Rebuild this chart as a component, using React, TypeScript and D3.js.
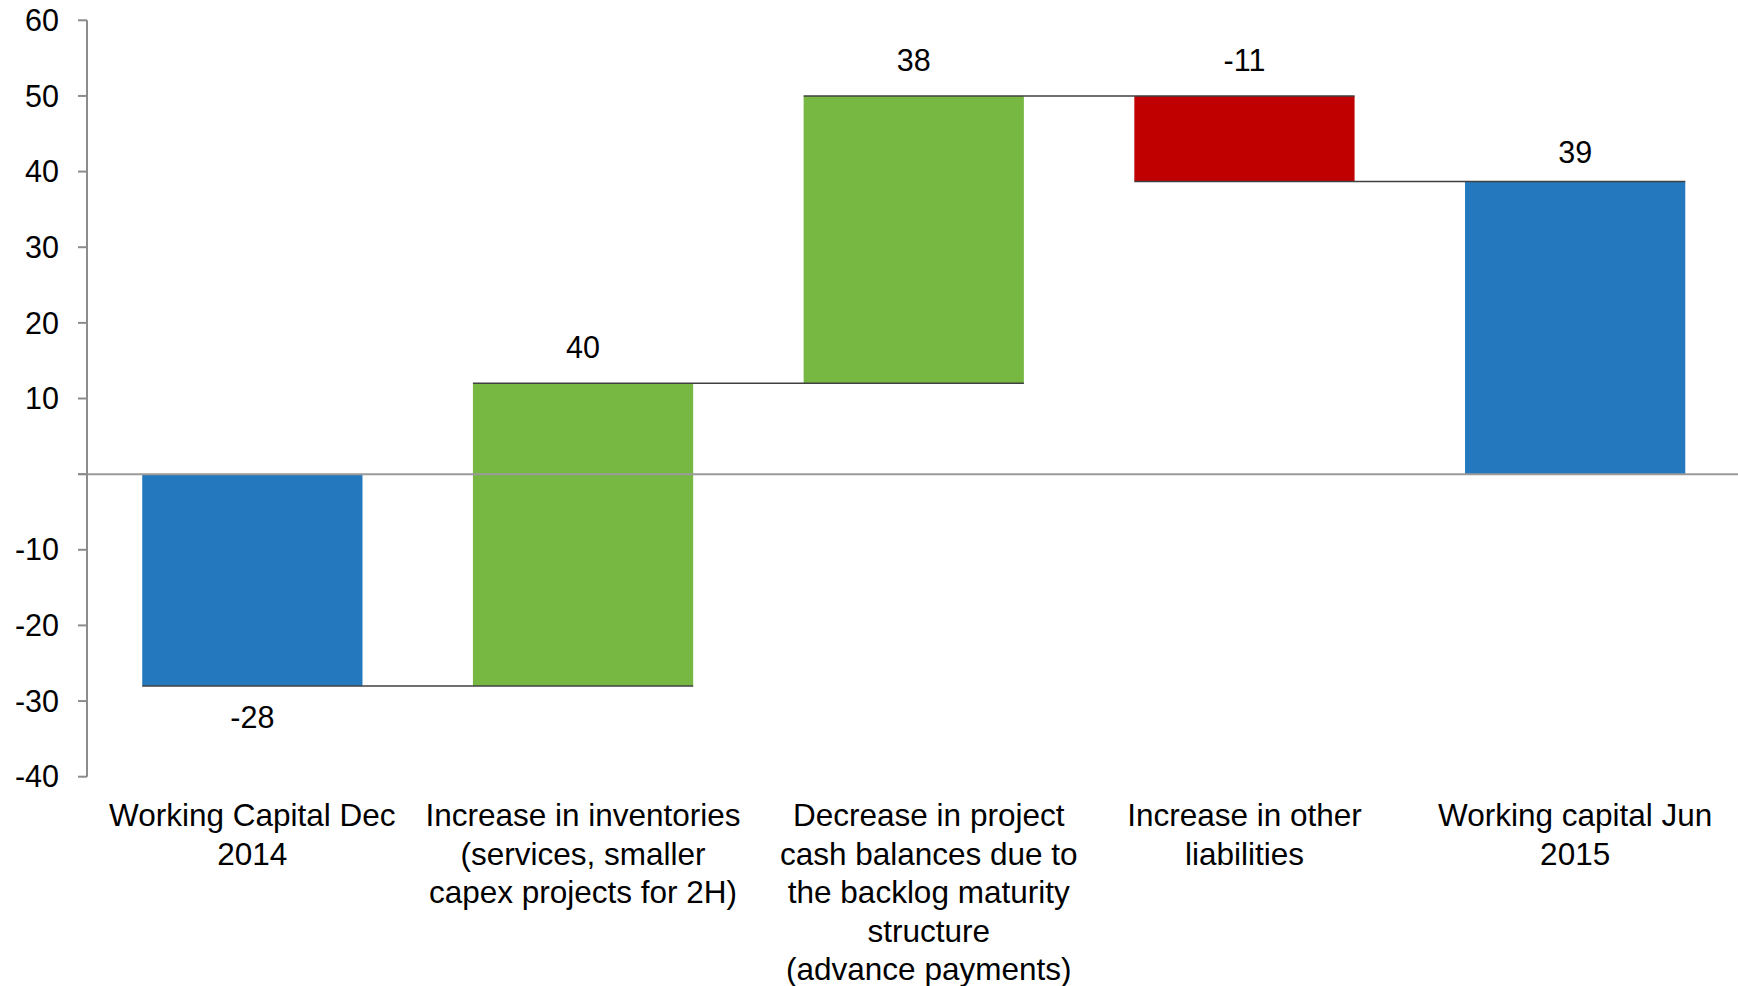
import React from "react";
import * as d3 from "d3";

const categories = [
  "Working Capital Dec 2014",
  "Increase in inventories (services, smaller capex projects for 2H)",
  "Decrease in project cash balances due to the backlog maturity structure (advance payments)",
  "Increase in other liabilities",
  "Working capital Jun 2015",
];
const categoryLines = [
  ["Working Capital Dec", "2014"],
  ["Increase in inventories", "(services, smaller", "capex projects for 2H)"],
  ["Decrease in project", "cash balances due to", "the backlog maturity", "structure", "(advance payments)"],
  ["Increase in other", "liabilities"],
  ["Working capital Jun", "2015"],
];
const kinds = ["total", "delta", "delta", "delta", "total"];
const values = [-28, 40, 38, -11.3, 38.7];
const valueLabels = ["-28", "40", "38", "-11", "39"];
const yTicks = [-40, -30, -20, -10, 0, 10, 20, 30, 40, 50, 60];
const yTickLabels = ["-40", "-30", "-20", "-10", "", "10", "20", "30", "40", "50", "60"];

const W = 1738;
const H = 986;
const FONT = "'Liberation Sans', Arial, sans-serif";
const BLUE = "#2479be";
const GREEN = "#77b843";
const RED = "#c00000";

export default function App() {
  const x = d3.scaleBand<string>().domain(categories).range([87, 1740.5]).paddingInner(0.334).paddingOuter(0.167);
  const y = d3.scaleLinear().domain([-40, 60]).range([776.7, 20.3]);

  let running = 0;
  const segs = categories.map((c, i) => {
    let y0: number, y1: number;
    if (kinds[i] === "total") {
      y0 = 0;
      y1 = values[i];
    } else {
      y0 = running;
      y1 = running + values[i];
    }
    running = y1;
    return { c, i, y0, y1, end: y1 };
  });

  const color = (i: number) =>
    kinds[i] === "total" ? BLUE : values[i] >= 0 ? GREEN : RED;

  // the long third label sits slightly right of its bar in the original
  const labelShift = (i: number) => (categoryLines[i].length > 3 ? 15 : 0);

  return (
    <svg width={W} height={H} style={{ position: "absolute", left: 0, top: 0, background: "#fff" }} fontFamily={FONT}>
      {segs.map((s) => (
        <rect
          key={"b" + s.i}
          x={x(s.c)!}
          width={x.bandwidth()}
          y={y(Math.max(s.y0, s.y1))}
          height={Math.abs(y(s.y0) - y(s.y1))}
          fill={color(s.i)}
        />
      ))}
      <line x1={78} x2={W} y1={y(0)} y2={y(0)} stroke="#9a9a9a" strokeWidth={2} />
      {segs.slice(0, -1).map((s) => {
        const next = categories[s.i + 1];
        return (
          <line
            key={"c" + s.i}
            x1={x(s.c)!}
            x2={x(next)! + x.bandwidth()}
            y1={y(s.end)}
            y2={y(s.end)}
            stroke="#404040"
            strokeWidth={1.5}
          />
        );
      })}
      <line x1={87} x2={87} y1={y(60)} y2={y(-40)} stroke="#8c8c8c" strokeWidth={2} />
      {yTicks.map((t, i) => (
        <g key={"t" + t}>
          <line x1={78} x2={87} y1={y(t)} y2={y(t)} stroke="#8c8c8c" strokeWidth={2} />
          <text x={59} y={y(t)} dy="0.35em" textAnchor="end" fontSize={30.5} fill="#000">
            {yTickLabels[i]}
          </text>
        </g>
      ))}
      {segs.map((s) => {
        const cx = x(s.c)! + x.bandwidth() / 2;
        const top = Math.max(s.y0, s.y1);
        const bottom = Math.min(s.y0, s.y1);
        const below = kinds[s.i] === "total" && values[s.i] < 0;
        const ly = below ? y(bottom) + 42 : y(top) - (kinds[s.i] === "total" ? 18 : 25);
        return (
          <text key={"v" + s.i} x={cx} y={ly} textAnchor="middle" fontSize={30.5} fill="#000">
            {valueLabels[s.i]}
          </text>
        );
      })}
      {categories.map((c, i) => {
        const cx = x(c)! + x.bandwidth() / 2 + labelShift(i);
        return (
          <text key={"l" + i} x={cx} textAnchor="middle" fontSize={31.5} fill="#000">
            {categoryLines[i].map((ln, j) => (
              <tspan key={j} x={cx} y={826 + j * 38.5}>
                {ln}
              </tspan>
            ))}
          </text>
        );
      })}
    </svg>
  );
}
